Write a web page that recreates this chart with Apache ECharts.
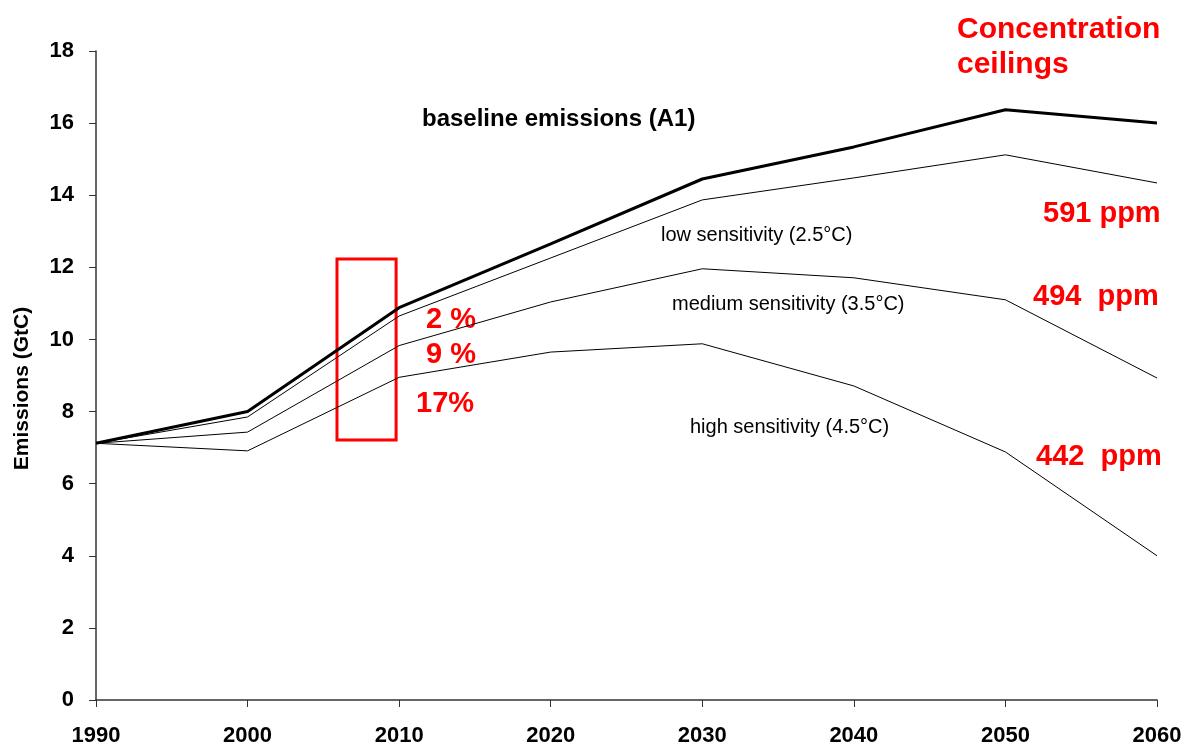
<!DOCTYPE html>
<html>
<head>
<meta charset="utf-8">
<script src="https://cdn.jsdelivr.net/npm/echarts@6/dist/echarts.min.js"></script>
<style>html,body{margin:0;padding:0;background:#fff;}#c{width:1195px;height:752px;}</style>
</head>
<body>
<div id="c"></div>
<script>
var years = [1990, 2000, 2010, 2020, 2030, 2040, 2050, 2060];
var baseline = [7.12, 8.0, 10.88, 12.65, 14.45, 15.34, 16.37, 16.0];
var lowSens = [7.12, 7.85, 10.65, 12.26, 13.87, 14.48, 15.12, 14.34];
var medSens = [7.12, 7.43, 9.83, 11.04, 11.96, 11.71, 11.1, 8.93];
var highSens = [7.12, 6.91, 8.95, 9.65, 9.88, 8.71, 6.88, 4.0];
var boxRange = [[2005.9, 12.23], [2009.8, 7.21]];

function pairs(v) { return years.map(function (y, i) { return [y, v[i]]; }); }

var FONT = '"Liberation Sans", Arial, sans-serif';
var chart = echarts.init(document.getElementById('c'));
var thin = { color: '#000', width: 1 };
function txt(x, y, s, size, color, bold) {
  return { type: 'text', x: x, y: y + 2, style: { text: s, fill: color, font: (bold ? 'bold ' : '') + size + 'px ' + FONT, align: 'left', verticalAlign: 'middle' } };
}
chart.setOption({
  animation: false,
  backgroundColor: '#fff',
  grid: { left: 96, right: 38, top: 51, bottom: 52 },
  xAxis: {
    type: 'value', min: 1990, max: 2060, interval: 10,
    axisLine: { lineStyle: { color: '#333', width: 1.5 } },
    axisTick: { show: true, length: 7, lineStyle: { color: '#333' } },
    splitLine: { show: false },
    axisLabel: { color: '#000', fontFamily: FONT, fontWeight: 'bold', fontSize: 22, margin: 25, formatter: function (v) { return String(v); } }
  },
  yAxis: {
    type: 'value', min: 0, max: 18, interval: 2,
    name: 'Emissions (GtC)', nameLocation: 'middle', nameGap: 63,
    nameTextStyle: { color: '#000', fontFamily: FONT, fontWeight: 'bold', fontSize: 21, padding: [0, 26, 0, 0] },
    axisLine: { show: true, lineStyle: { color: '#333', width: 1.5 } },
    axisTick: { show: true, length: 7, lineStyle: { color: '#333' } },
    splitLine: { show: false },
    axisLabel: { color: '#000', fontFamily: FONT, fontWeight: 'bold', fontSize: 22, margin: 22 }
  },
  series: [
    { type: 'line', data: pairs(highSens), symbol: 'none', lineStyle: thin },
    { type: 'line', data: pairs(medSens), symbol: 'none', lineStyle: thin },
    { type: 'line', data: pairs(lowSens), symbol: 'none', lineStyle: thin },
    { type: 'line', data: pairs(baseline), symbol: 'none', lineStyle: { color: '#000', width: 3 },
      markArea: { silent: true, itemStyle: { color: 'rgba(0,0,0,0)', borderColor: '#ff0000', borderWidth: 3 },
        data: [[{ coord: boxRange[0] }, { coord: boxRange[1] }]] } }
  ],
  graphic: [
    txt(422, 117, 'baseline emissions (A1)', 24, '#000', true),
    txt(661, 233, 'low sensitivity (2.5°C)', 20, '#000', false),
    txt(672, 302, 'medium sensitivity (3.5°C)', 20, '#000', false),
    txt(690, 425, 'high sensitivity (4.5°C)', 20, '#000', false),
    txt(957, 28, 'Concentration', 30, '#ff0000', true),
    txt(957, 63, 'ceilings', 30, '#ff0000', true),
    txt(1043, 212, '591 ppm', 29, '#ff0000', true),
    txt(1033, 295, '494  ppm', 29, '#ff0000', true),
    txt(1036, 455, '442  ppm', 29, '#ff0000', true),
    txt(426, 318, '2 %', 29, '#ff0000', true),
    txt(426, 353, '9 %', 29, '#ff0000', true),
    txt(416, 402, '17%', 29, '#ff0000', true)
  ]
});
</script>
</body>
</html>
